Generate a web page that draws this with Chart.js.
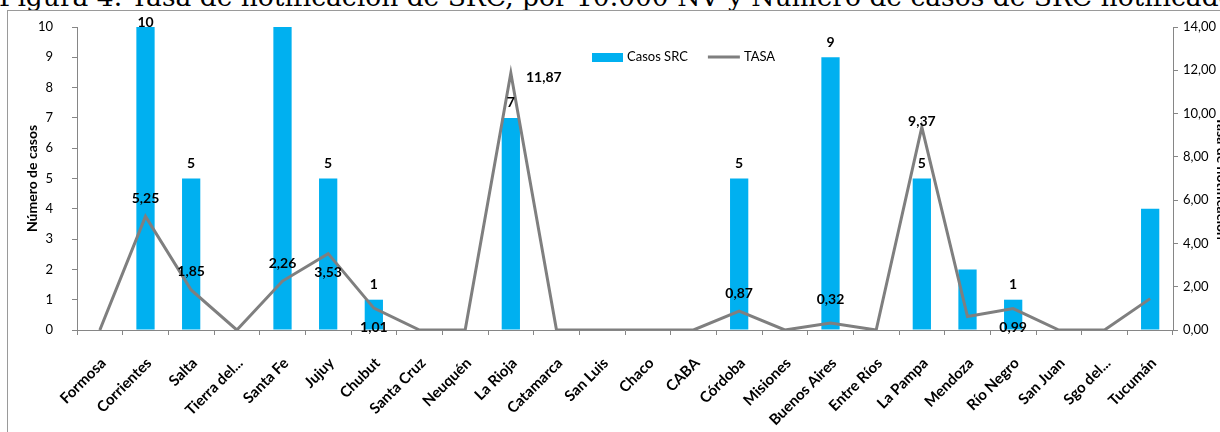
<!DOCTYPE html>
<html lang="es">
<head>
<meta charset="utf-8">
<title>Figura 4 · Casos de SRC y tasa de notificación</title>
<script src="https://cdn.jsdelivr.net/npm/chart.js@4.4.1/dist/chart.umd.min.js"></script>
<style>
  html, body { margin: 0; padding: 0; background: #fff; overflow: hidden; width: 1220px; height: 432px; }
  #titulo {
    position: absolute; left: -1px; top: -17px; white-space: nowrap;
    font-family: 'DejaVu Serif', serif; font-size: 26.5px; line-height: 28px; color: #000;
  }
  #marco { position: absolute; left: 7px; top: 10px; width: 1400px; height: 600px; border: 1px solid #9a9a9a; }
  #lienzo { position: absolute; left: 0; top: 0; }
</style>
</head>
<body>
<div id="titulo">Figura 4. Tasa de notificación de SRC, por 10.000 NV y Número de casos de SRC notificados</div>
<div id="marco"></div>
<canvas id="lienzo" width="1240" height="440"></canvas>
<script>
// ============================================================
//  Datos
// ============================================================
const categorias = [
  'Formosa', 'Corrientes', 'Salta', 'Tierra del...', 'Santa Fe', 'Jujuy', 'Chubut', 'Santa Cruz',
  'Neuquén', 'La Rioja', 'Catamarca', 'San Luis', 'Chaco', 'CABA', 'Córdoba', 'Misiones',
  'Buenos Aires', 'Entre Ríos', 'La Pampa', 'Mendoza', 'Río Negro', 'San Juan', 'Sgo del...', 'Tucumán'
];
const casosSRC = [0, 10, 5, 0, 10, 5, 1, 0, 0, 7, 0, 0, 0, 0, 5, 0, 9, 0, 5, 2, 1, 0, 0, 4];
const tasa = [0, 5.25, 1.85, 0, 2.26, 3.53, 1.01, 0, 0, 11.87, 0, 0, 0, 0, 0.87, 0, 0.32, 0, 9.37, 0.62, 0.99, 0, 0, 1.45];

// barras que llevan etiqueta en el original
const casosConEtiqueta = ['Corrientes', 'Salta', 'Jujuy', 'Chubut', 'La Rioja', 'Córdoba', 'Buenos Aires', 'La Pampa', 'Río Negro'];

// ubicación de la etiqueta de TASA por provincia
const posEtiquetaTasa = {
  'Corrientes': 'arriba', 'Salta': 'arriba', 'Santa Fe': 'arriba', 'Jujuy': 'abajo', 'Chubut': 'abajo',
  'La Rioja': 'derecha', 'Córdoba': 'arriba', 'Buenos Aires': 'arribaAlto', 'La Pampa': 'pico', 'Río Negro': 'abajo'
};
const desplazamientos = {
  arriba: [0, -18], arribaAlto: [0, -24], abajo: [0, 19], derecha: [33, 4], pico: [0, -6]
};

const maxCasos = 10;
const maxTasa = 14;

const colorBarra = '#00B0F0';
const colorLinea = '#7F7F7F';
const colorEje = '#868686';
const fuente = "Lato, 'Open Sans', sans-serif";

Chart.defaults.font.family = fuente;
Chart.defaults.color = '#000';

const fmtComa = v => Number(v).toFixed(2).replace('.', ',');

// ---- etiquetas de datos ----
const etiquetasDatos = {
  id: 'etiquetasDatos',
  afterDatasetsDraw(chart) {
    const { ctx, chartArea } = chart;
    ctx.save();
    ctx.font = 'bold 14px ' + fuente;
    ctx.fillStyle = '#000';
    ctx.textAlign = 'center';
    ctx.textBaseline = 'middle';

    const barras = chart.getDatasetMeta(1);
    barras.data.forEach((bar, i) => {
      if (!casosConEtiqueta.includes(categorias[i])) return;
      const y = Math.max(bar.y - 15, chartArea.top - 5);
      ctx.fillText(String(casosSRC[i]), bar.x, y);
    });

    const linea = chart.getDatasetMeta(0);
    linea.data.forEach((pt, i) => {
      const pos = posEtiquetaTasa[categorias[i]];
      if (!pos) return;
      const [dx, dy] = desplazamientos[pos];
      ctx.fillText(fmtComa(tasa[i]), pt.x + dx, pt.y + dy);
    });
    ctx.restore();
  }
};

// ---- rótulos del eje X a 45° (anclados como en Excel) ----
const rotulosEjeX = {
  id: 'rotulosEjeX',
  afterDraw(chart) {
    const { ctx } = chart;
    const xs = chart.scales.x;
    ctx.save();
    ctx.font = 'bold 15px ' + fuente;
    ctx.fillStyle = '#000';
    ctx.textAlign = 'right';
    ctx.textBaseline = 'alphabetic';
    categorias.forEach((nombre, i) => {
      ctx.save();
      ctx.translate(xs.getPixelForValue(i) + 7, xs.top + 34);
      ctx.rotate(-Math.PI / 4);
      ctx.fillText(nombre, 0, 0);
      ctx.restore();
    });
    ctx.restore();
  }
};

// ---- leyenda dentro del área del gráfico ----
const leyenda = {
  id: 'leyenda',
  afterDraw(chart) {
    const { ctx, chartArea } = chart;
    const y = chartArea.top + 30;
    let x = chartArea.left + 515;
    ctx.save();
    ctx.font = '13px ' + fuente;
    ctx.textBaseline = 'middle';
    ctx.textAlign = 'left';
    ctx.fillStyle = colorBarra;
    ctx.fillRect(x, y - 4, 31, 9);
    ctx.fillStyle = '#000';
    ctx.fillText(chart.data.datasets[1].label, x + 35, y);
    x += 35 + ctx.measureText(chart.data.datasets[1].label).width + 20;
    ctx.strokeStyle = colorLinea;
    ctx.lineWidth = 3;
    ctx.beginPath();
    ctx.moveTo(x, y);
    ctx.lineTo(x + 32, y);
    ctx.stroke();
    ctx.fillText(chart.data.datasets[0].label, x + 36, y);
    ctx.restore();
  }
};

new Chart(document.getElementById('lienzo'), {
  type: 'bar',
  data: {
    labels: categorias,
    datasets: [
      {
        type: 'line',
        label: 'TASA',
        data: tasa,
        yAxisID: 'y1',
        borderColor: colorLinea,
        borderWidth: 3,
        pointRadius: 0,
        tension: 0,
        fill: false,
        order: 0,
      },
      {
        type: 'bar',
        label: 'Casos SRC',
        data: casosSRC,
        yAxisID: 'y',
        backgroundColor: colorBarra,
        barPercentage: 0.4,
        categoryPercentage: 1.0,
        order: 1,
      }
    ]
  },
  options: {
    responsive: false,
    animation: false,
    layout: { padding: { top: 27, left: 0, right: 0, bottom: 0 } },
    plugins: {
      legend: { display: false },
      tooltip: { enabled: false }
    },
    scales: {
      x: {
        offset: true,
        grid: { display: true, drawOnChartArea: false, offset: true, tickLength: 5, color: colorEje },
        border: { color: colorEje, width: 1 },
        ticks: { display: false },
        afterFit: s => { s.height = 110; }
      },
      y: {
        position: 'left',
        min: 0,
        max: maxCasos,
        grid: { drawOnChartArea: false, tickLength: 5, color: colorEje },
        border: { color: colorEje, width: 1 },
        ticks: { stepSize: 1, padding: 19, font: { size: 13 } },
        title: {
          display: true, text: 'Número de casos',
          font: { size: 14, weight: 'bold' }, padding: { top: 24, bottom: 0 }
        },
        afterFit: s => { s.width = 77; }
      },
      y1: {
        position: 'right',
        min: 0,
        max: maxTasa,
        grid: { drawOnChartArea: false, tickLength: 5, color: colorEje },
        border: { color: colorEje, width: 1 },
        ticks: { stepSize: 2, padding: 5, font: { size: 13 }, callback: v => fmtComa(v) },
        title: {
          display: true, text: 'Tasa de notificación',
          font: { size: 14, weight: 'bold' }, padding: { top: 10, bottom: 0 }
        },
        afterFit: s => { s.width = 67; }
      }
    }
  },
  plugins: [etiquetasDatos, rotulosEjeX, leyenda]
});
</script>
</body>
</html>
